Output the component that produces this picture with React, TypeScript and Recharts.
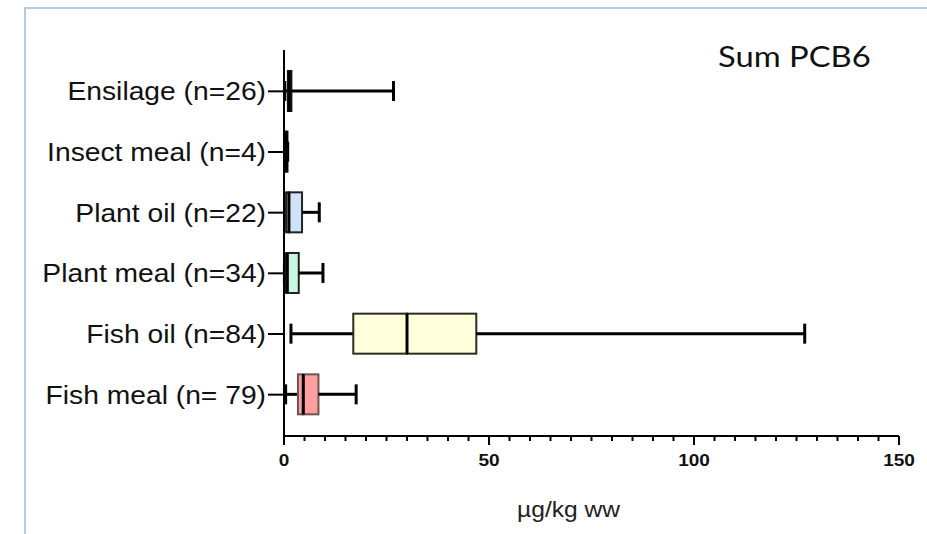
import { BarChart, Bar, XAxis, YAxis } from 'recharts';

// box plot summary per feed group (µg/kg ww)
const categories = ['Ensilage (n=26)', 'Insect meal (n=4)', 'Plant oil (n=22)', 'Plant meal (n=34)', 'Fish oil (n=84)', 'Fish meal (n= 79)'];
const mins = [0.2, 0.25, 0.3, 0.1, 1.7, 0.4];
const q1s = [0.95, 0.3, 0.5, 0.3, 16.9, 3.4];
const medians = [1.3, 0.55, 1.2, 0.8, 30, 4.7];
const q3s = [1.8, 0.85, 4.4, 3.6, 46.9, 8.4];
const maxs = [26.7, 0.9, 8.6, 9.5, 127, 17.6];

const xTicks = [0, 5, 10, 15, 20, 25, 30, 35, 40, 45, 50, 55, 60, 65, 70, 75, 80, 85, 90, 95, 100, 105, 110, 115, 120, 125, 130, 135, 140, 145, 150];
const xLabelTicks = [0, 50, 100, 150];

const boxFills = ['#ffffff', '#ffffff', '#cfe2f8', '#c9f5e3', '#ffffdc', '#ff9f9f'];
const boxStrokes = ['#111111', '#111111', '#222222', '#222222', '#2b2b22', '#6b5555'];

const rows = categories.map((name, i) => ({
  name,
  base: mins[i],
  lowWhisker: q1s[i] - mins[i],
  boxLow: medians[i] - q1s[i],
  boxHigh: q3s[i] - medians[i],
  highWhisker: maxs[i] - q3s[i],
}));

const Empty = () => <g />;

const LowWhisker = (p: any) => {
  const cy = p.y + p.height / 2;
  return (
    <g>
      <line x1={p.x} x2={p.x + p.width} y1={cy} y2={cy} stroke="#000" strokeWidth={3} />
      <line x1={p.x} x2={p.x} y1={cy - 10} y2={cy + 10} stroke="#000" strokeWidth={3} />
    </g>
  );
};

const HighWhisker = (p: any) => {
  const cy = p.y + p.height / 2;
  const end = p.x + p.width;
  return (
    <g>
      <line x1={p.x} x2={end} y1={cy} y2={cy} stroke="#000" strokeWidth={3} />
      <line x1={end} x2={end} y1={cy - 10} y2={cy + 10} stroke="#000" strokeWidth={3} />
    </g>
  );
};

const BoxLow = (p: any) => (
  <rect x={p.x} y={p.y} width={p.width} height={p.height} fill={boxFills[p.index]} stroke={boxStrokes[p.index]} strokeWidth={2} />
);

const BoxHigh = (p: any) => (
  <g>
    <rect x={p.x} y={p.y} width={p.width} height={p.height} fill={boxFills[p.index]} stroke={boxStrokes[p.index]} strokeWidth={2} />
    <line x1={p.x} x2={p.x} y1={p.y} y2={p.y + p.height} stroke="#000" strokeWidth={3} />
  </g>
);

const CategoryTick = ({ x, y, payload }: any) => (
  <text
    transform={`translate(${x},${y + 9}) scale(1.13,1)`}
    textAnchor="end"
    fontFamily="'Liberation Sans', Arial, sans-serif"
    fontSize={25}
    fill="#111"
  >
    {payload.value}
  </text>
);

const ValueTick = ({ x, y, payload }: any) => {
  const major = xLabelTicks.includes(payload.value);
  return (
    <g>
      <line x1={x} x2={x} y1={y} y2={y + (major ? 9 : 5)} stroke="#000" strokeWidth={2} />
      {major && (
        <text
          transform={`translate(${x},${y + 30}) scale(1.12,1)`}
          textAnchor="middle"
          fontFamily="'Liberation Sans', Arial, sans-serif"
          fontWeight="bold"
          fontSize={17}
          fill="#111"
        >
          {payload.value}
        </text>
      )}
    </g>
  );
};

export default function App() {
  return (
    <div style={{ position: 'absolute', left: 0, top: 0, width: 927, height: 534, background: '#fff' }}>
      <div
        style={{
          position: 'absolute',
          left: 24,
          top: 7,
          right: 0,
          bottom: 0,
          borderLeft: '2px solid #b8c9e6',
          borderTop: '2px solid #b8c9e6',
        }}
      />
      <BarChart
        width={927}
        height={534}
        data={rows}
        layout="vertical"
        barSize={40}
        margin={{ top: 50, right: 28, bottom: 68, left: 0 }}
        style={{ position: 'absolute', left: 0, top: 0 }}
      >
        <XAxis
          type="number"
          domain={[0, 150]}
          ticks={xTicks}
          interval={0}
          tick={<ValueTick />}
          tickLine={false}
          tickSize={0}
          tickMargin={0}
          height={30}
          axisLine={{ stroke: '#000', strokeWidth: 2 }}
        />
        <YAxis
          type="category"
          dataKey="name"
          width={284}
          padding={{ top: 11, bottom: 11 }}
          tick={<CategoryTick />}
          tickSize={16}
          tickMargin={2}
          tickLine={{ stroke: '#000', strokeWidth: 2 }}
          axisLine={{ stroke: '#000', strokeWidth: 2 }}
          interval={0}
        />
        <Bar dataKey="base" stackId="a" shape={<Empty />} isAnimationActive={false} />
        <Bar dataKey="lowWhisker" stackId="a" shape={<LowWhisker />} isAnimationActive={false} />
        <Bar dataKey="boxLow" stackId="a" shape={<BoxLow />} isAnimationActive={false} />
        <Bar dataKey="boxHigh" stackId="a" shape={<BoxHigh />} isAnimationActive={false} />
        <Bar dataKey="highWhisker" stackId="a" shape={<HighWhisker />} isAnimationActive={false} />
      </BarChart>
      <svg width={927} height={534} style={{ position: 'absolute', left: 0, top: 0, pointerEvents: 'none' }}>
        <text
          transform="translate(718,67) scale(1.13,1)"
          fontFamily="Lato, 'Open Sans', sans-serif"
          fontSize={29}
          fill="#111"
        >
          Sum PCB6
        </text>
        <text
          transform="translate(517,517) scale(1.12,1)"
          fontFamily="'Liberation Sans', Arial, sans-serif"
          fontSize={22}
          fill="#222"
        >
          µg/kg ww
        </text>
      </svg>
    </div>
  );
}
